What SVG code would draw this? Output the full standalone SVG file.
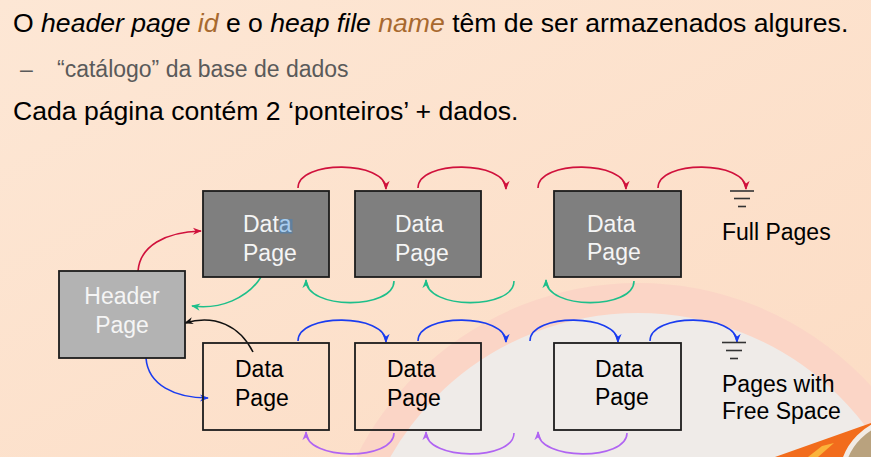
<svg xmlns="http://www.w3.org/2000/svg" width="871" height="457" viewBox="0 0 871 457">
<defs>
<linearGradient id="bg" x1="0" y1="0" x2="1" y2="1">
<stop offset="0" stop-color="#fde7d5"/>
<stop offset="1" stop-color="#fcdcc4"/>
</linearGradient>
<marker id="mr" viewBox="0 0 10 10" refX="9" refY="5" markerWidth="9" markerHeight="9" markerUnits="userSpaceOnUse" orient="auto"><path d="M0,1 L10,5 L0,9 L3,5 z" fill="#d0113c"/></marker>
<marker id="mg" viewBox="0 0 10 10" refX="9" refY="5" markerWidth="9" markerHeight="9" markerUnits="userSpaceOnUse" orient="auto"><path d="M0,1 L10,5 L0,9 L3,5 z" fill="#1dbf8a"/></marker>
<marker id="mb" viewBox="0 0 10 10" refX="9" refY="5" markerWidth="9" markerHeight="9" markerUnits="userSpaceOnUse" orient="auto"><path d="M0,1 L10,5 L0,9 L3,5 z" fill="#1a3cf0"/></marker>
<marker id="mp" viewBox="0 0 10 10" refX="9" refY="5" markerWidth="9" markerHeight="9" markerUnits="userSpaceOnUse" orient="auto"><path d="M0,1 L10,5 L0,9 L3,5 z" fill="#b064f2"/></marker>
<marker id="mk" viewBox="0 0 10 10" refX="9" refY="5" markerWidth="9" markerHeight="9" markerUnits="userSpaceOnUse" orient="auto"><path d="M0,1 L10,5 L0,9 L3,5 z" fill="#111"/></marker>
</defs>
<style>
text{font-family:"Liberation Sans",Arial,sans-serif}
.t{font-size:26.6px;fill:#000}
.it{font-style:italic}
.br{fill:#a8692f}
.sub{font-size:23px;fill:#5a5a5a}
.box{stroke:#1c1c1c;stroke-width:1.8}
.full{fill:#7f7f7f}
.hdr{fill:#b3b3b3}
.free{fill:none}
.lw{font-size:23px;fill:#f5f5f5}
.lb{font-size:23px;fill:#000}
.c{fill:none;stroke-width:1.6}
.r{stroke:#d0113c;marker-end:url(#mr)}
.g{stroke:#1dbf8a;marker-end:url(#mg)}
.b{stroke:#1a3cf0;marker-end:url(#mb)}
.p{stroke:#b064f2;marker-end:url(#mp)}
.k{stroke:#111;marker-end:url(#mk)}
.gnd{stroke:#333;stroke-width:1.6}
</style>
<rect width="871" height="457" fill="url(#bg)"/>
<circle cx="638" cy="598" r="300" fill="#efebe8" stroke="#fbd5c6" stroke-width="30"/>
<polygon points="775,457 871,423 871,457" fill="#f26c1c"/>
<polygon points="808,457 822,446 834,443 818,457" fill="#fbb33a"/>
<circle cx="900" cy="478" r="58" fill="#b9a27e" stroke="#f1ebe5" stroke-width="5"/>

<g id="title">
<text class="t" x="13" y="32">O <tspan class="it">header page </tspan><tspan class="it br">id</tspan> e o <tspan class="it">heap file </tspan><tspan class="it br">name</tspan> têm de ser armazenados algures.</text>
<text class="sub" x="20" y="77">–</text>
<text class="sub" x="57" y="77">“catálogo” da base de dados</text>
<text class="t" x="13" y="120">Cada página contém 2 ‘ponteiros’ + dados.</text>
</g>

<g id="connectors">
<path class="c r" d="M138,271 C140,246 165,232 201,231"/>
<path class="c r" d="M298,188 C298,160 386,160 386,189"/>
<path class="c r" d="M418,188 C418,160 506,160 506,189"/>
<path class="c r" d="M538,188 C538,160 626,160 626,189"/>
<path class="c r" d="M658,188 C658,160 746,160 746,189"/>
<path class="c g" d="M261,277 C248,298 220,310 192,306"/>
<path class="c g" d="M394,281 C394,310 306,310 306,280"/>
<path class="c g" d="M514,281 C514,310 426,310 426,280"/>
<path class="c g" d="M634,281 C634,310 546,310 546,280"/>
<path class="c b" d="M146,358 C148,385 175,398 208,398"/>
<path class="c b" d="M298,341 C298,313 386,313 386,342"/>
<path class="c b" d="M418,341 C418,313 506,313 506,342"/>
<path class="c b" d="M530,341 C530,313 618,313 618,342"/>
<path class="c b" d="M650,341 C650,313 737,313 737,342"/>
<path class="c p" d="M394,433 C394,461 306,461 306,432"/>
<path class="c p" d="M514,433 C514,461 426,461 426,432"/>
<path class="c p" d="M627,433 C627,461 538,461 538,432"/>
<path class="c k" d="M253,352 C240,326 215,314 185,323"/>
</g>

<g id="header">
<rect class="box hdr" x="59" y="271" width="126" height="87"/>
<text class="lw" x="122" y="304" text-anchor="middle">Header</text>
<text class="lw" x="122" y="333" text-anchor="middle">Page</text>
</g>
<g id="full1">
<rect class="box full" x="203" y="191" width="126" height="86"/>
<rect x="280" y="219" width="12.5" height="14.5" fill="#5f809f"/>
<text class="lw" x="243" y="232">Dat<tspan fill="#a9cdee">a</tspan></text>
<text class="lw" x="243" y="261">Page</text>
</g>
<g id="full2">
<rect class="box full" x="355" y="191" width="126" height="86"/>
<text class="lw" x="395" y="232">Data</text>
<text class="lw" x="395" y="261">Page</text>
</g>
<g id="full3">
<rect class="box full" x="554" y="191" width="127" height="86"/>
<text class="lw" x="587" y="232">Data</text>
<text class="lw" x="587" y="260">Page</text>
</g>
<g id="free1">
<rect class="box free" x="203" y="343" width="126" height="87"/>
<text class="lb" x="235" y="377">Data</text>
<text class="lb" x="235" y="406">Page</text>
</g>
<g id="free2">
<rect class="box free" x="355" y="343" width="126" height="87"/>
<text class="lb" x="387" y="377">Data</text>
<text class="lb" x="387" y="406">Page</text>
</g>
<g id="free3">
<rect class="box free" x="554" y="343" width="127" height="87"/>
<text class="lb" x="595" y="377">Data</text>
<text class="lb" x="595" y="405">Page</text>
</g>
<g id="ground-full">
<line class="gnd" x1="730" y1="191" x2="754" y2="191"/>
<line class="gnd" x1="734" y1="198.5" x2="750" y2="198.5"/>
<line class="gnd" x1="738" y1="206.5" x2="746" y2="206.5"/>
<text class="lb" x="722" y="240">Full Pages</text>
</g>
<g id="ground-free">
<line class="gnd" x1="722" y1="342.5" x2="746" y2="342.5"/>
<line class="gnd" x1="726" y1="350.5" x2="742" y2="350.5"/>
<line class="gnd" x1="730" y1="358.5" x2="738" y2="358.5"/>
<text class="lb" x="722" y="392">Pages with</text>
<text class="lb" x="722" y="419">Free Space</text>
</g>
</svg>
